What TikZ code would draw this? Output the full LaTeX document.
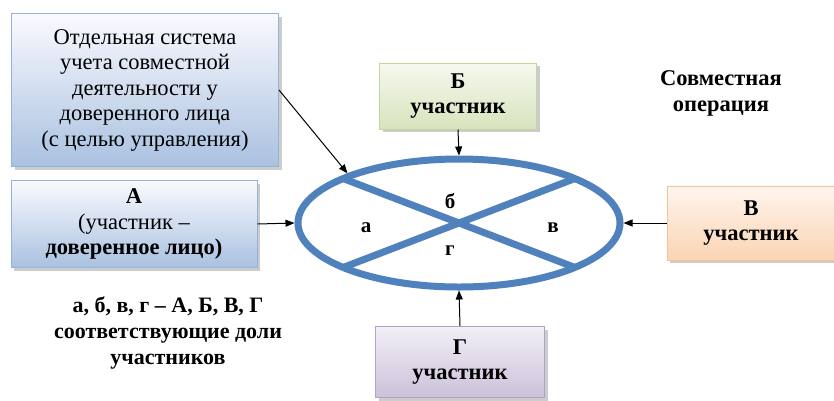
\documentclass[tikz,border=0pt]{standalone}
\usepackage{fontspec}
\setmainfont{Liberation Serif}
\usetikzlibrary{arrows.meta,shapes.geometric,shadows}
\definecolor{opblue}{RGB}{79,129,189}
\definecolor{bluebd}{RGB}{149,179,215}
\definecolor{greenbd}{RGB}{195,214,155}
\definecolor{orangebd}{RGB}{250,192,144}
\definecolor{violetbd}{RGB}{179,162,199}
\tikzset{
	box/.style={draw, line width=1pt, inner sep=0pt, align=center, font=\fontsize{22.5}{25.5}\selectfont,
		drop shadow={shadow xshift=3pt, shadow yshift=-3pt, fill=black!40}},
	bluebox/.style={box, draw=bluebd, top color=blue!2!white, bottom color={rgb,255:red,169;green,193;blue,224}},
	greenbox/.style={box, draw=greenbd, top color={rgb,255:red,246;green,249;blue,239}, bottom color={rgb,255:red,215;green,228;blue,189}},
	orangebox/.style={box, draw=orangebd, top color={rgb,255:red,254;green,245;blue,238}, bottom color={rgb,255:red,251;green,212;blue,180}},
	violetbox/.style={box, draw=violetbd, top color={rgb,255:red,242;green,239;blue,246}, bottom color={rgb,255:red,204;green,193;blue,218}},
	share/.style={font=\fontsize{21}{24}\selectfont\bfseries},
	link/.style={line width=1pt, -{Triangle[length=9pt,width=7pt]}},
}

\begin{document}
\begin{tikzpicture}[x=1pt, y=-1pt]
			%%%%% START %%%%%
			\useasboundingbox (0, 0) rectangle (834, 400);
			
			\node[bluebox, minimum width=267pt, minimum height=153pt] (sys) at (145, 90)
				{Отдельная система\\учета совместной\\деятельности у\\доверенного лица\\(с целью управления)};
			\node[bluebox, minimum width=246pt, minimum height=87pt] (pa) at (134, 224)
				{\textbf{А}\\(участник –\\\textbf{доверенное лицо)}};
			\node[greenbox, minimum width=157pt, minimum height=66pt] (pb) at (458, 96)
				{\textbf{Б}\\\textbf{участник}};
			\node[orangebox, minimum width=168pt, minimum height=74pt] (pv) at (751, 223)
				{\textbf{В}\\\textbf{участник}};
			\node[violetbox, minimum width=169pt, minimum height=71pt] (pg) at (460, 362)
				{\textbf{Г}\\\textbf{участник}};
			
			% joint operation
			\node[ellipse, draw=opblue, line width=7pt, minimum width=322pt, minimum height=128pt,
				inner sep=0pt, outer sep=3.5pt] (op) at (459, 223) {};
			\draw[opblue, line width=7pt, shorten <=5pt, shorten >=5pt] (op.21) -- (op.201);
			\draw[opblue, line width=7pt, shorten <=5pt, shorten >=5pt] (op.159) -- (op.339);
			
			\node[share] (sa) at (366, 228) {а};
			\node[share] (sb) at (450, 201) {б};
			\node[share] (sv) at (553, 228) {в};
			\node[share] (sg) at (450, 251) {г};
			
			\draw[link] (sys.east) -- (op.156);
			\draw[link] (pa.east) -- (op.west);
			\draw[link] (pb.south) -- (op.north);
			\draw[link] (pv.west) -- (op.east);
			\draw[link] (pg.north) -- (op.south);
			
			\node[align=center, font=\fontsize{22.5}{26}\selectfont\bfseries] (title) at (721, 93)
				{Совместная\\операция};
			\node[align=center, font=\fontsize{22}{26}\selectfont\bfseries] (legend) at (168, 333)
				{а, б, в, г – А, Б, В, Г\\соответствующие доли\\участников};
			
			%%%%% END %%%%%
\end{tikzpicture}
\end{document}
